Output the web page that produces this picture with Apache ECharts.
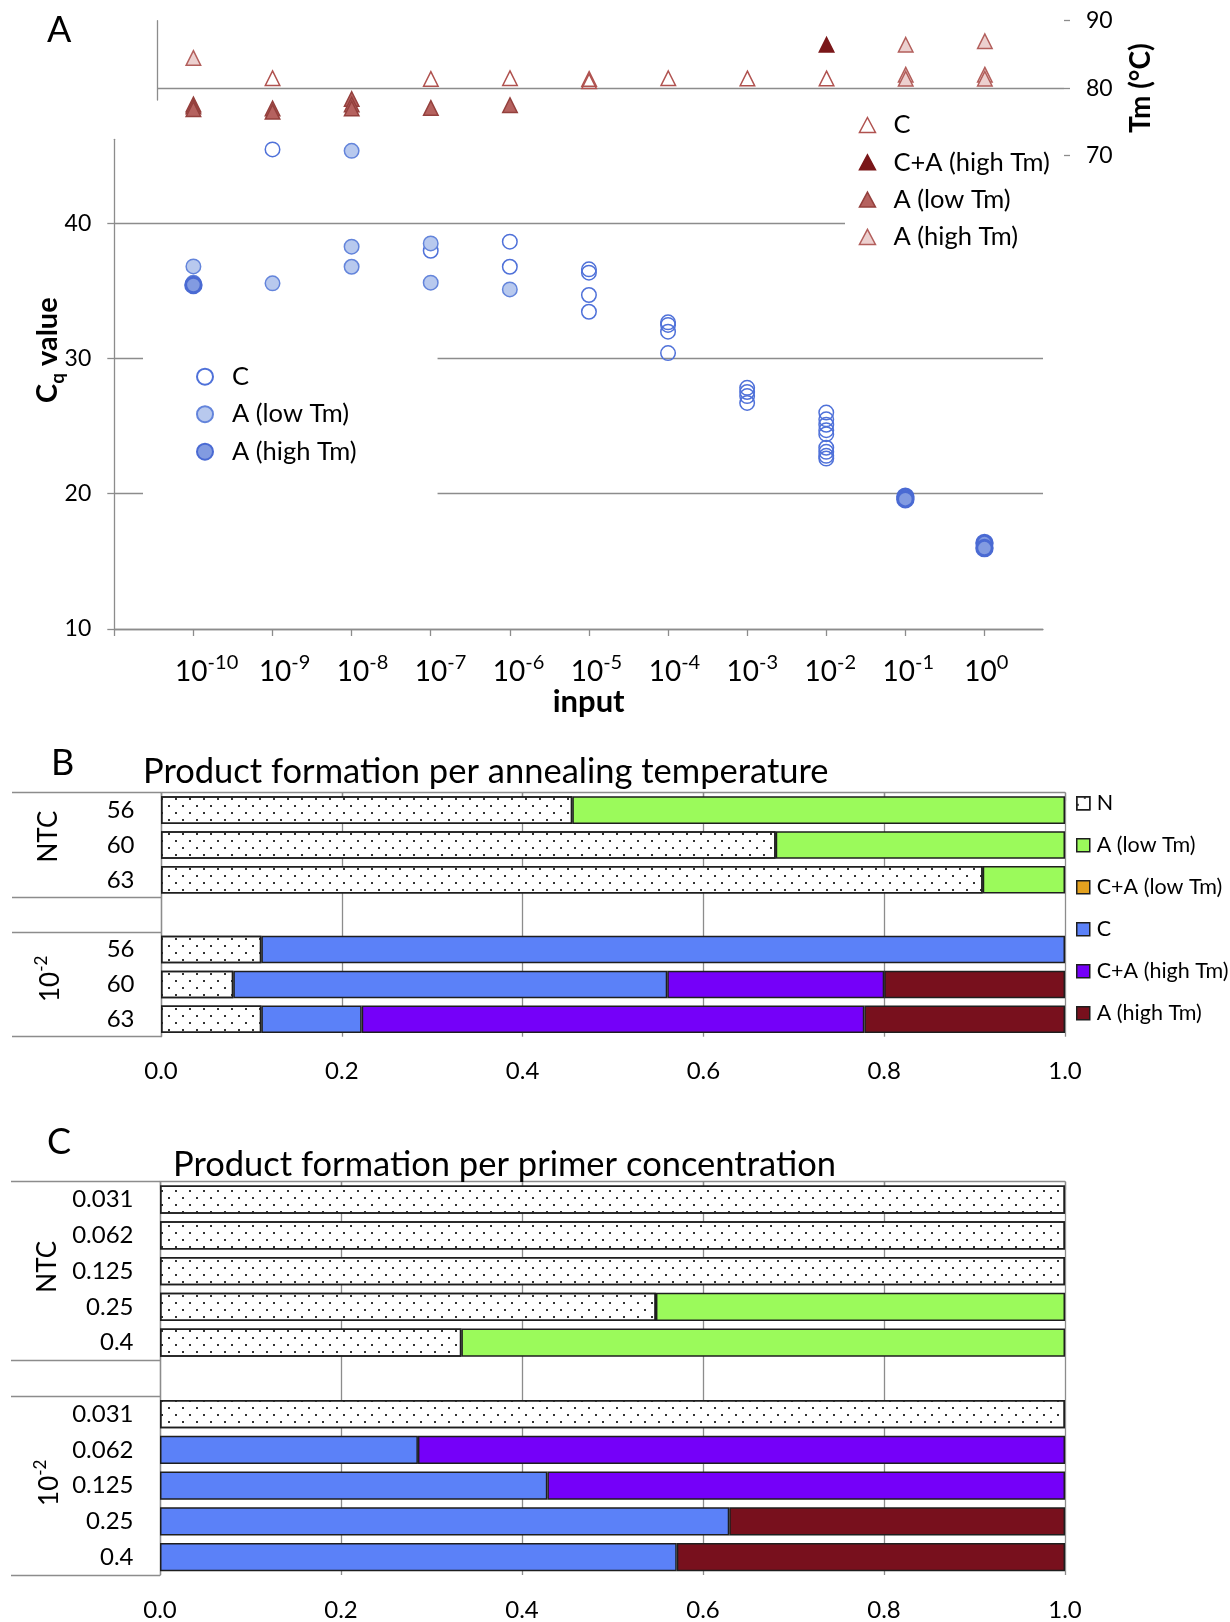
<!DOCTYPE html>
<html>
<head>
<meta charset="utf-8">
<script src="https://cdn.jsdelivr.net/npm/echarts@6/dist/echarts.min.js"></script>
<style>
html,body{margin:0;padding:0;background:#fff;}
#chart{width:1230px;height:1622px;}
</style>
</head>
<body>
<div id="chart"></div>
<script>
// ================= DATA =================
// ---- Panel A ----
const inputExponents = ['-10','-9','-8','-7','-6','-5','-4','-3','-2','-1','0'];
const inputPositions = [1,2,3,4,5,6,7,8,9,10,11];   // position of 10^exp on the input axis
const cqTicks = [10,20,30,40];
// [input position, Cq value]
const cqC = [[2,45.45],[4,37.96],[5,38.63],[5,36.78],[6,36.59],[6,36.34],[6,34.69],[6,33.45],
             [7,32.67],[7,32.48],[7,31.98],[7,30.40],[8,27.83],[8,27.52],[8,27.22],[8,26.71],
             [9,26.0],[9,25.5],[9,25.1],[9,24.7],[9,24.4],[9,23.4],[9,23.1],[9,22.8],[9,22.6]];
const cqALow = [[1,36.8],[1,35.6],[2,35.55],[3,45.35],[3,38.26],[3,36.78],[4,38.5],[4,35.6],[5,35.1]];
const cqAHigh = [[1,35.43],[10,19.78],[10,19.6],[11,16.35],[11,15.98]];
// [input position, Tm °C]
const tmC = [[2,81.48],[4,81.38],[5,81.48],[6,81.38],[6,81.04],[7,81.47],[8,81.45],[9,81.45]];
const tmCAHigh = [[9,86.44]];
const tmALow = [[1,77.6],[1,77.3],[1,76.9],[2,77.0],[2,76.5],[3,78.4],[3,77.6],[3,77.0],[4,77.08],[5,77.48]];
const tmAHigh = [[1,84.49],[10,86.44],[10,82.0],[10,81.4],[11,86.96],[11,82.0],[11,81.4]];

// ---- Panel B (annealing temperature) ----
const bCategories = ['56','60','63','','56','60','63'];
const bGroups = ['NTC', '-2'];          // NTC and 10^-2
const bN      = [0.455, 0.68, 0.909, '-', 0.111, 0.08, 0.111];
const bALow   = [0.545, 0.32, 0.091, '-', '-', '-', '-'];
const bCALow  = ['-', '-', '-', '-', '-', '-', '-'];
const bC      = ['-', '-', '-', '-', 0.889, 0.48, 0.111];
const bCAHigh = ['-', '-', '-', '-', '-', 0.24, 0.556];
const bAHigh  = ['-', '-', '-', '-', '-', 0.20, 0.222];

// ---- Panel C (primer concentration) ----
const cCategories = ['0.031','0.062','0.125','0.25','0.4','','0.031','0.062','0.125','0.25','0.4'];
const cN      = [1, 1, 1, 0.548, 0.333, '-', 1, '-', '-', '-', '-'];
const cALow   = ['-', '-', '-', 0.452, 0.667, '-', '-', '-', '-', '-', '-'];
const cC      = ['-', '-', '-', '-', '-', '-', '-', 0.285, 0.428, 0.629, 0.571];
const cCAHigh = ['-', '-', '-', '-', '-', '-', '-', 0.715, 0.572, '-', '-'];
const cAHigh  = ['-', '-', '-', '-', '-', '-', '-', '-', '-', 0.371, 0.429];

const productNames = ['N','A (low Tm)','C+A (low Tm)','C','C+A (high Tm)','A (high Tm)'];

// ================= STYLE =================
const FONT = 'Lato, "Noto Sans", sans-serif';
const AX = '#8c8c8c';
const TXT = '#000';
const BORDER = '#1e1e1e';
const strip = n => n.split('|')[1];
const supRich = (b, s) => ({
  b: {fontSize: b, fontFamily: FONT, color: TXT, lineHeight: b + 5, verticalAlign: 'bottom'},
  s: {fontSize: s, fontFamily: FONT, color: TXT, lineHeight: s, verticalAlign: 'top'}
});
const dotDecal = {symbol: 'rect', symbolSize: 1, color: '#333', backgroundColor: null,
  dashArrayX: [[2, 11.3], [0, 6.65, 2, 4.65]], dashArrayY: [2, 4.8]};
const productColors = ['#ffffff', '#9BFA5B', '#E3A11F', '#5B81F8', '#7500F9', '#78101D'];

function scatter(name, data, xi, yi, symbol, size, color, border, bw) {
  return {type: 'scatter', name, data, xAxisIndex: xi, yAxisIndex: yi, symbol, symbolSize: size,
    itemStyle: {color, borderColor: border, borderWidth: bw, opacity: 1}, silent: true, animation: false, z: 3};
}
function bars(prefix, xi, yi, sets) {
  return sets.map((d, k) => ({
    type: 'bar', name: prefix + '|' + productNames[k], data: d, xAxisIndex: xi, yAxisIndex: yi,
    stack: prefix, barWidth: '79%', silent: true, animation: false,
    itemStyle: Object.assign({color: productColors[k], borderColor: BORDER, borderWidth: 1.5},
      k === 0 ? {decal: dotDecal} : {})
  }));
}

const gridBase = {containLabel: false, outerBoundsMode: 'none'};
const hiddenAxis = {show: false};
const letterStyle = {fontSize: 36, fontWeight: 'normal', lineHeight: 40, color: TXT, fontFamily: FONT};
const titleStyle = {fontSize: 34.5, fontWeight: 'normal', lineHeight: 40, color: TXT, fontFamily: FONT};

const option = {
  animation: false,
  backgroundColor: '#fff',
  textStyle: {fontFamily: FONT},
  title: [
    {text: 'A', left: 47, top: 10, padding: 0, textStyle: letterStyle},
    {text: 'B', left: 51, top: 743, padding: 0, textStyle: letterStyle},
    {text: 'C', left: 47, top: 1122, padding: 0, textStyle: letterStyle},
    {text: 'Product formation per annealing temperature', left: 143, top: 752, padding: 0, textStyle: titleStyle},
    {text: 'Product formation per primer concentration', left: 173, top: 1145, padding: 0, textStyle: titleStyle}
  ],
  grid: [
    Object.assign({left: 157, right: 166, top: 20.7, bottom: 1466.3}, gridBase),   // 0 Tm
    Object.assign({left: 157, right: 166, top: 20.7, bottom: 1522}, gridBase),     // 1 Tm axis line
    Object.assign({left: 114.3, right: 187, top: 139.3, bottom: 993}, gridBase),   // 2 Cq
    Object.assign({left: 161, right: 165, top: 792.7, bottom: 585.3}, gridBase),   // 3 panel B
    Object.assign({left: 160, right: 165, top: 1181.7, bottom: 47}, gridBase)      // 4 panel C
  ],
  legend: [
    { // Tm legend
      orient: 'vertical', left: 845, top: 105, padding: [7, 6, 6, 13.7], backgroundColor: '#fff',
      itemWidth: 16, itemHeight: 15, itemGap: 11.3, selectedMode: false,
      data: ['Tm|C', 'Tm|C+A (high Tm)', 'Tm|A (low Tm)', 'Tm|A (high Tm)'],
      formatter: strip, itemStyle: {borderWidth: 1.5},
      textStyle: {fontSize: 25.5, lineHeight: 26, padding: [0, 0, 0, 13], color: TXT, fontFamily: FONT}
    },
    { // Cq legend
      orient: 'vertical', left: 143, top: 350, padding: [13.7, 81, 40, 53], backgroundColor: '#fff',
      itemWidth: 16, itemHeight: 16, itemGap: 11.5, selectedMode: false,
      data: ['Cq|C', 'Cq|A (low Tm)', 'Cq|A (high Tm)'],
      formatter: strip,
      textStyle: {fontSize: 25.5, lineHeight: 26, padding: [0, 0, 0, 14], color: TXT, fontFamily: FONT}
    },
    { // product legend
      orient: 'vertical', left: 1076, top: 791.3, padding: 0, icon: 'rect',
      itemWidth: 13, itemHeight: 13, itemGap: 18, selectedMode: false,
      data: productNames.map(n => 'B|' + n), formatter: strip, itemStyle: {borderWidth: 1.5},
      textStyle: {fontSize: 21.5, lineHeight: 24, padding: [0, 0, 0, 2], color: TXT, fontFamily: FONT}
    }
  ],
  xAxis: [
    Object.assign({type: 'value', gridIndex: 0, min: 0.54, max: 12}, hiddenAxis),
    Object.assign({type: 'value', gridIndex: 1, min: 0, max: 1}, hiddenAxis),
    { // Cq main x axis
      type: 'value', gridIndex: 2, position: 'bottom', min: 0, max: 11.74,
      axisLine: {show: true, onZero: false, lineStyle: {color: AX, width: 1.3}},
      axisTick: {show: true, customValues: [0].concat(inputPositions), length: 7, lineStyle: {color: AX, width: 1.3}},
      axisLabel: {show: false}, splitLine: {show: false},
      name: 'input', nameLocation: 'middle', nameGap: 57,
      nameTextStyle: {fontSize: 31, fontWeight: 'bold', color: TXT, fontFamily: FONT, padding: [0, 0, 0, 20]}
    },
    { // Cq tick labels
      type: 'value', gridIndex: 2, position: 'bottom', min: -0.185, max: 11.728,
      axisLine: {show: false}, axisTick: {show: false}, splitLine: {show: false},
      axisLabel: {show: true, customValues: inputPositions, margin: 23.5,
        formatter: v => '{b|10}{s|' + inputExponents[Math.round(v) - 1] + '}',
        rich: supRich(28, 20)}
    },
    { // Panel B x
      type: 'value', gridIndex: 3, position: 'bottom', min: 0, max: 1, interval: 0.2,
      axisLine: {show: true, lineStyle: {color: AX, width: 1.3}},
      axisTick: {show: true, length: 8, lineStyle: {color: AX, width: 1.3}},
      splitLine: {show: true, lineStyle: {color: AX, width: 1.3}},
      axisLabel: {fontSize: 24, lineHeight: 28, margin: 21, color: TXT, fontFamily: FONT, formatter: v => v.toFixed(1)}
    },
    { // Panel C x
      type: 'value', gridIndex: 4, position: 'bottom', min: 0, max: 1, interval: 0.2,
      axisLine: {show: true, lineStyle: {color: AX, width: 1.3}},
      axisTick: {show: true, length: 8, lineStyle: {color: AX, width: 1.3}},
      splitLine: {show: true, lineStyle: {color: AX, width: 1.3}},
      axisLabel: {fontSize: 24, lineHeight: 28, margin: 21, color: TXT, fontFamily: FONT, formatter: v => v.toFixed(1)}
    }
  ],
  yAxis: [
    { // 0 Tm
      type: 'value', gridIndex: 0, position: 'right', min: 70, max: 90, interval: 10,
      axisLine: {show: false},
      axisTick: {show: true, length: 6, lineStyle: {color: AX, width: 1.3}},
      axisLabel: {fontSize: 23, margin: 22, color: TXT, fontFamily: FONT},
      splitLine: {show: true, showMinLine: false, showMaxLine: false, lineStyle: {color: AX, width: 1.3}},
      name: 'Tm (°C)', nameLocation: 'middle', nameRotate: 90, nameGap: 60,
      nameTextStyle: {fontSize: 28, fontWeight: 'bold', lineHeight: 33, color: TXT, fontFamily: FONT}
    },
    { // 1 Tm axis line
      type: 'value', gridIndex: 1, position: 'right', min: 0, max: 1,
      axisLine: {show: true, lineStyle: {color: AX, width: 1.3}},
      axisTick: {show: false}, axisLabel: {show: false}, splitLine: {show: false}
    },
    { // 2 Cq
      type: 'value', gridIndex: 2, position: 'left', min: 10, max: 46.2,
      axisLine: {show: true, onZero: false, lineStyle: {color: AX, width: 1.3}},
      axisTick: {show: true, customValues: cqTicks, length: 7, lineStyle: {color: AX, width: 1.3}},
      axisLabel: {show: true, customValues: cqTicks, fontSize: 23, margin: 23, color: TXT, fontFamily: FONT},
      splitLine: {show: true, lineStyle: {color: AX, width: 1.3}},
      name: '{b|C}{s|q}{b| value}', nameLocation: 'middle', nameRotate: 90, nameGap: 47, nameMoveOverlap: false,
      nameTextStyle: {padding: [0, 0, 0, 68], rich: {
        b: {fontSize: 29, fontWeight: 'bold', lineHeight: 34, color: TXT, fontFamily: FONT, verticalAlign: 'top'},
        s: {fontSize: 19, fontWeight: 'bold', lineHeight: 22, color: TXT, fontFamily: FONT, verticalAlign: 'bottom'}
      }}
    },
    { // 3 Panel B categories
      type: 'category', gridIndex: 3, position: 'left', data: bCategories, inverse: true,
      axisLine: {show: true, lineStyle: {color: AX, width: 1.3}}, axisTick: {show: false},
      axisLabel: {fontSize: 24, margin: 26.5, color: TXT, fontFamily: FONT}, splitLine: {show: false}
    },
    { // 4 Panel B groups
      type: 'value', gridIndex: 3, position: 'left', min: 0, max: 7, inverse: true,
      axisLine: {show: false}, splitLine: {show: false},
      axisTick: {show: true, customValues: [0, 3, 4, 7], length: 149, lineStyle: {color: AX, width: 1.3}},
      axisLabel: {show: true, customValues: [1.26, 5.34], rotate: 90, margin: 97,
        fontSize: 26, lineHeight: 30, color: TXT, fontFamily: FONT,
        formatter: v => v < 3.5 ? bGroups[0] : '{b|10}{s|' + bGroups[1] + '}', rich: supRich(26, 17)}
    },
    { // 5 Panel C categories
      type: 'category', gridIndex: 4, position: 'left', data: cCategories, inverse: true,
      axisLine: {show: true, lineStyle: {color: AX, width: 1.3}}, axisTick: {show: false},
      axisLabel: {fontSize: 24, margin: 26.5, color: TXT, fontFamily: FONT}, splitLine: {show: false}
    },
    { // 6 Panel C groups
      type: 'value', gridIndex: 4, position: 'left', min: 0, max: 11, inverse: true,
      axisLine: {show: false}, splitLine: {show: false},
      axisTick: {show: true, customValues: [0, 5, 6, 11], length: 149, lineStyle: {color: AX, width: 1.3}},
      axisLabel: {show: true, customValues: [2.38, 8.42], rotate: 90, margin: 97,
        fontSize: 26, lineHeight: 30, color: TXT, fontFamily: FONT,
        formatter: v => v < 5.5 ? bGroups[0] : '{b|10}{s|' + bGroups[1] + '}', rich: supRich(26, 17)}
    }
  ],
  series: [
    scatter('Tm|C', tmC, 0, 0, 'triangle', 14.5, 'rgba(255,255,255,0)', '#B0524F', 1.5),
    scatter('Tm|C+A (high Tm)', tmCAHigh, 0, 0, 'triangle', 14.5, '#7A1719', '#7A1719', 1.5),
    scatter('Tm|A (low Tm)', tmALow, 0, 0, 'triangle', 14.5, '#B5625F', '#94403D', 1.5),
    scatter('Tm|A (high Tm)', tmAHigh, 0, 0, 'triangle', 14.5, '#ECD0CF', '#B25E5B', 1.5),
    scatter('Cq|C', cqC, 2, 2, 'circle', 14.5, 'rgba(255,255,255,0)', '#4F71D9', 1.5),
    scatter('Cq|A (low Tm)', cqALow, 2, 2, 'circle', 14.5, '#B8C9EE', '#6384DB', 1.5),
    scatter('Cq|A (high Tm)', cqAHigh, 2, 2, 'circle', 15.5, '#829BE1', '#4A6AD3', 3)
  ]
  .concat(bars('B', 4, 3, [bN, bALow, bCALow, bC, bCAHigh, bAHigh]))
  .concat(bars('C', 5, 5, [cN, cALow, [], cC, cCAHigh, cAHigh]))
};

const chart = echarts.init(document.getElementById('chart'), null, {renderer: 'canvas', width: 1230, height: 1622});
chart.setOption(option);
</script>
</body>
</html>
